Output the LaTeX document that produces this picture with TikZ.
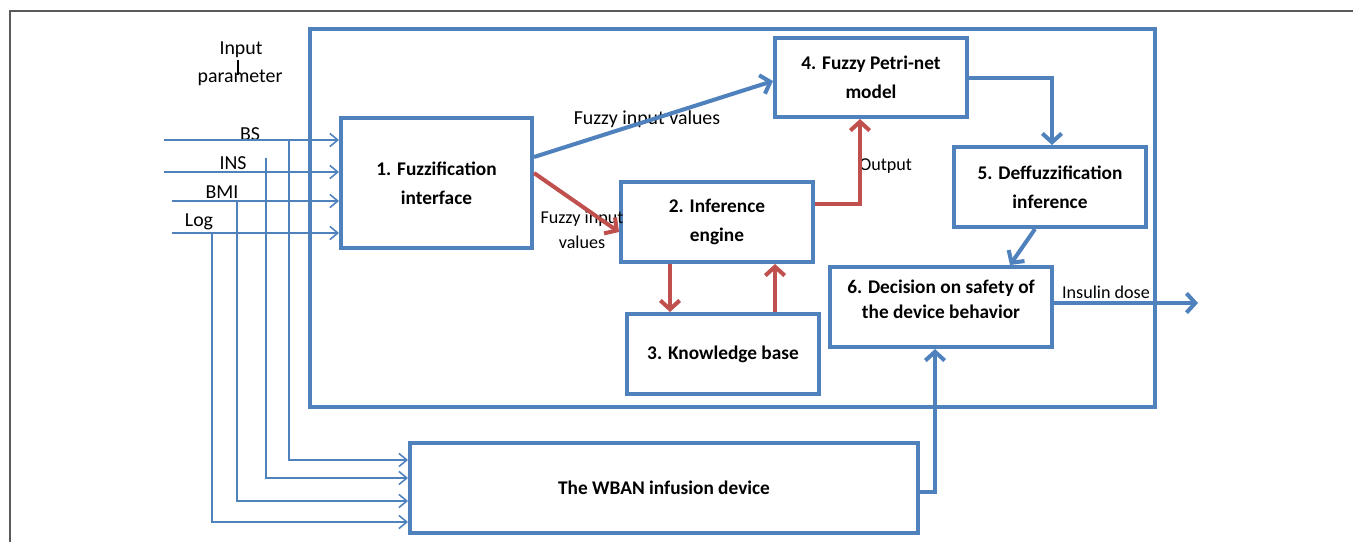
\documentclass[tikz,border=0pt]{standalone}
\usepackage{fontspec}
\setmainfont{Carlito}
\usetikzlibrary{arrows.meta}
\definecolor{ob}{RGB}{79,129,189}
\definecolor{orr}{RGB}{192,80,77}
\definecolor{framegray}{RGB}{90,90,90}
\begin{document}
\begin{tikzpicture}[x=0.02cm,y=-0.02cm,
  box/.style={draw=ob, line width=2.3pt, inner sep=0pt, align=center,
    font=\fontsize{11}{16.4}\selectfont\bfseries},
  btext/.style={inner sep=0pt, align=center, font=\fontsize{11}{14.2}\selectfont\bfseries},
  lbl/.style={inner sep=0pt, font=\fontsize{11.3}{14}\selectfont},
  slbl/.style={inner sep=0pt, align=center, font=\fontsize{10.3}{14.2}\selectfont},
  barr/.style={draw=ob, line width=2.3pt, -{Straight Barb[length=5pt,width=11pt]}},
  rarr/.style={draw=orr, line width=2.3pt, -{Straight Barb[length=5pt,width=11pt]}},
  inarr/.style={draw=ob, line width=0.9pt, -{Straight Barb[length=4.5pt,width=7.5pt]}},
]
\useasboundingbox (0,0) rectangle (1353,542);
% page frame
\draw[framegray, line width=0.9pt] (10,542) -- (10,11) -- (1353,11);

% system frame
\node[box, minimum width=16.9cm, minimum height=7.56cm] (sys) at (732.5,218) {};

% blocks
\node[box, minimum width=3.82cm, minimum height=2.6cm] (n1) at (436.5,183) {1. Fuzzification\\interface};
\node[box, minimum width=3.84cm, minimum height=1.58cm] (n4) at (871,77.5) {4. Fuzzy Petri-net\\model};
\node[box, minimum width=3.84cm, minimum height=1.6cm] (n2) at (717,222) {2. Inference\\engine};
\node[box, minimum width=3.84cm, minimum height=1.6cm] (n3) at (723,354) {3. Knowledge base};
\node[box, minimum width=3.84cm, minimum height=1.6cm] (n5) at (1050,187) {5. Deffuzzification\\inference};
\node[box, minimum width=4.44cm, minimum height=1.6cm] (n6) at (941,307) {};
\node[btext] (t6) at (941,299.5) {6. Decision on safety of\\the device behavior};
\node[box, minimum width=10.16cm, minimum height=1.8cm] (wban) at (664,488) {The WBAN infusion device};

% labels
\node[lbl] (lin) at (241,50) {Input};
\node[lbl] (lpar) at (240,78) {parameter};
\draw[black, line width=0.6pt] (238,60) -- (238,75);
\node[lbl] (lbs) at (250,134) {BS};
\node[lbl] (lins) at (233,163) {INS};
\node[lbl] (lbmi) at (222,192) {BMI};
\node[lbl] (llog) at (199,222) {Log};
\node[lbl] (lfiv) at (647,119) {Fuzzy input values};
\node[slbl] (lfiv2) at (582,230) {Fuzzy input\\values};
\node[slbl, anchor=west] (lout) at (859,166) {Output};
\node[slbl] (ldose) at (1106,292) {Insulin dose};

% input lines
\coordinate (bs) at (164,140);
\coordinate (ins) at (164,172);
\coordinate (bmi) at (172,201);
\coordinate (log) at (172,233);
\draw[inarr] (bs) -- (n1.west |- bs);
\draw[inarr] (ins) -- (n1.west |- ins);
\draw[inarr] (bmi) -- (n1.west |- bmi);
\draw[inarr] (log) -- (n1.west |- log);
\coordinate (bsv) at (289,140);
\coordinate (insv) at (266,158);
\coordinate (bmiv) at (237,201);
\coordinate (logv) at (212,233);
\draw[inarr] (bsv) |- (wban.west |- 0,460);
\draw[inarr] (insv) |- (wban.west |- 0,478);
\draw[inarr] (bmiv) |- (wban.west |- 0,501);
\draw[inarr] (logv) |- (wban.west |- 0,522);

% connectors
\draw[barr] (n1.east |- 0,157) -- (n4.west |- 0,81);
\draw[rarr] (n1.east |- 0,173) -- (n2.west |- 0,232);
\draw[rarr] (n2.east |- 0,204) -| (n4.south -| 860,0);
\draw[rarr] (n2.south -| 670,0) -- (n3.north -| 670,0);
\draw[rarr] (n3.north -| 775,0) -- (n2.south -| 775,0);
\draw[barr] (n4.east |- 0,78) -| (n5.north -| 1052,0);
\draw[barr] (n5.south -| 1035,0) -- (n6.north -| 1010,0);
\coordinate (out) at (1198,303);
\draw[barr] (n6.east |- out) -- (out);
\draw[barr] (wban.east |- 0,492) -| (n6.south -| 935,0);
\end{tikzpicture}
\end{document}
